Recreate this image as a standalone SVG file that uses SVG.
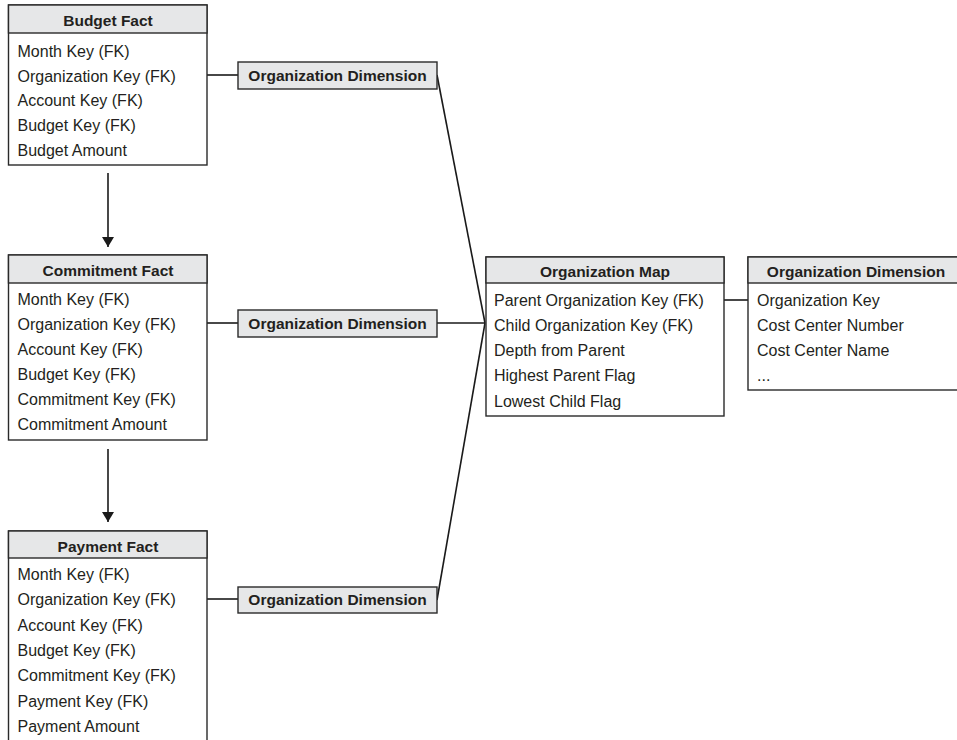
<svg xmlns="http://www.w3.org/2000/svg" width="957" height="740" viewBox="0 0 957 740">
<style>
.box{fill:#fff;stroke:#2a2a2a;stroke-width:1.4}
.hdr{fill:#e6e7e8;stroke:#2a2a2a;stroke-width:1.4}
.h{font-family:"Liberation Sans",Arial,sans-serif;font-weight:bold;font-size:15.5px;fill:#231f20;text-anchor:middle}
.t{font-family:"Liberation Sans",Arial,sans-serif;font-size:16px;fill:#231f20}
.c{stroke:#1a1a1a;stroke-width:1.6;fill:none}
</style>
<defs>
<marker id="ah" viewBox="0 0 10 12" refX="10" refY="6" markerWidth="10" markerHeight="12" markerUnits="userSpaceOnUse" orient="auto">
<path d="M0,0 L10,6 L0,12 Z" fill="#1a1a1a"/>
</marker>
</defs>
<rect width="957" height="740" fill="#fff"/>
<g id="connectors">
<line class="c" x1="108" y1="173" x2="108" y2="247" marker-end="url(#ah)"/>
<line class="c" x1="108" y1="449" x2="108" y2="522" marker-end="url(#ah)"/>
<line class="c" x1="207" y1="75" x2="238" y2="75"/>
<line class="c" x1="207" y1="323" x2="238" y2="323"/>
<line class="c" x1="207" y1="599" x2="238" y2="599"/>
<line class="c" x1="437" y1="75" x2="485" y2="323"/>
<line class="c" x1="437" y1="323" x2="485" y2="323"/>
<line class="c" x1="437" y1="600" x2="485" y2="323"/>
<line class="c" x1="724" y1="300" x2="748" y2="300"/>
</g>
<g id="budget-fact">
<rect class="box" x="8.5" y="5" width="198.5" height="160"/>
<rect class="hdr" x="8.5" y="5" width="198.5" height="28"/>
<text class="h" x="108" y="26">Budget Fact</text>
<text class="t" x="17.5" y="57">Month Key (FK)</text>
<text class="t" x="17.5" y="82">Organization Key (FK)</text>
<text class="t" x="17.5" y="106">Account Key (FK)</text>
<text class="t" x="17.5" y="131">Budget Key (FK)</text>
<text class="t" x="17.5" y="156">Budget Amount</text>
</g>
<g id="commitment-fact">
<rect class="box" x="8.5" y="255" width="198.5" height="185"/>
<rect class="hdr" x="8.5" y="255" width="198.5" height="28"/>
<text class="h" x="108" y="276">Commitment Fact</text>
<text class="t" x="17.5" y="305">Month Key (FK)</text>
<text class="t" x="17.5" y="330">Organization Key (FK)</text>
<text class="t" x="17.5" y="355">Account Key (FK)</text>
<text class="t" x="17.5" y="380">Budget Key (FK)</text>
<text class="t" x="17.5" y="405">Commitment Key (FK)</text>
<text class="t" x="17.5" y="430">Commitment Amount</text>
</g>
<g id="payment-fact">
<rect class="box" x="8.5" y="531" width="198.5" height="220"/>
<rect class="hdr" x="8.5" y="531" width="198.5" height="27"/>
<text class="h" x="108" y="552">Payment Fact</text>
<text class="t" x="17.5" y="580">Month Key (FK)</text>
<text class="t" x="17.5" y="605">Organization Key (FK)</text>
<text class="t" x="17.5" y="631">Account Key (FK)</text>
<text class="t" x="17.5" y="656">Budget Key (FK)</text>
<text class="t" x="17.5" y="681">Commitment Key (FK)</text>
<text class="t" x="17.5" y="707">Payment Key (FK)</text>
<text class="t" x="17.5" y="732">Payment Amount</text>
</g>
<g id="org-dim-1">
<rect class="hdr" x="238" y="62" width="199" height="27"/>
<text class="h" x="337.5" y="81">Organization Dimension</text>
</g>
<g id="org-dim-2">
<rect class="hdr" x="238" y="310" width="199" height="27"/>
<text class="h" x="337.5" y="329">Organization Dimension</text>
</g>
<g id="org-dim-3">
<rect class="hdr" x="238" y="587" width="199" height="26"/>
<text class="h" x="337.5" y="605">Organization Dimension</text>
</g>
<g id="org-map">
<rect class="box" x="486" y="257" width="238" height="159"/>
<rect class="hdr" x="486" y="257" width="238" height="26"/>
<text class="h" x="605" y="277">Organization Map</text>
<text class="t" x="494" y="306">Parent Organization Key (FK)</text>
<text class="t" x="494" y="331">Child Organization Key (FK)</text>
<text class="t" x="494" y="356">Depth from Parent</text>
<text class="t" x="494" y="381">Highest Parent Flag</text>
<text class="t" x="494" y="407">Lowest Child Flag</text>
</g>
<g id="org-dimension">
<rect class="box" x="748" y="257" width="216" height="133"/>
<rect class="hdr" x="748" y="257" width="216" height="26"/>
<text class="h" x="856" y="277">Organization Dimension</text>
<text class="t" x="757" y="306">Organization Key</text>
<text class="t" x="757" y="331">Cost Center Number</text>
<text class="t" x="757" y="356">Cost Center Name</text>
<text class="t" x="757" y="381">...</text>
</g>
</svg>
